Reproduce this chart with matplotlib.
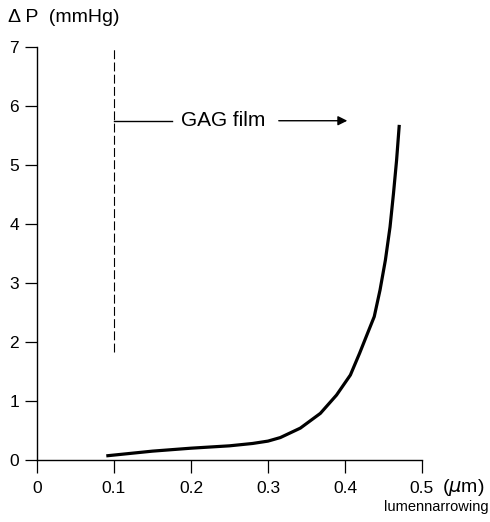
import matplotlib
matplotlib.use("Agg")
import matplotlib.pyplot as plt

plt.rcParams['font.family'] = ['Liberation Sans', 'DejaVu Sans']

# curve: lumen narrowing (um) vs pressure drop (mmHg)
narrowing = [0.09, 0.15, 0.2, 0.25, 0.28, 0.3, 0.316, 0.342, 0.368, 0.389,
             0.407, 0.419, 0.430, 0.438, 0.4455, 0.4525, 0.4585, 0.463,
             0.467, 0.4705]
delta_p = [0.07, 0.15, 0.2, 0.24, 0.28, 0.32, 0.38, 0.54, 0.79, 1.10,
           1.44, 1.81, 2.17, 2.43, 2.88, 3.39, 3.95, 4.52, 5.08, 5.68]

x_ticks = [0, 0.1, 0.2, 0.3, 0.4, 0.5]
x_labels = ['0', '0.1', '0.2', '0.3', '0.4', '0.5']
y_ticks = [0, 1, 2, 3, 4, 5, 6, 7]

film_x = 0.1          # GAG film boundary
film_y = [1.83, 7.0]
arrow_y = 5.75
arrow_end = 0.403

fig = plt.figure(figsize=(4.9, 5.22), dpi=100)
ax = fig.add_axes([0.0755, 0.1188, 0.7857, 0.7912])

ax.plot(narrowing, delta_p, color='black', lw=2.3,
        solid_capstyle='butt', solid_joinstyle='round')

# dashed boundary line and the arrow
ax.plot([film_x, film_x], film_y, color='black', lw=0.8, dashes=(8, 3))
ax.plot([film_x, 0.175], [arrow_y, arrow_y], color='black', lw=1.0)
ax.annotate('', xy=(arrow_end, arrow_y), xytext=(0.314, arrow_y),
            arrowprops=dict(arrowstyle='-|>', color='black', lw=1.0,
                            mutation_scale=14, shrinkA=0, shrinkB=0))
ax.text(0.242, arrow_y, 'GAG film', ha='center', va='center', fontsize=15)

ax.set_xlim(0, 0.5)
ax.set_ylim(0, 7)
ax.set_xticks(x_ticks)
ax.set_xticklabels(x_labels)
ax.set_yticks(y_ticks)

for side in ['top', 'right']:
    ax.spines[side].set_visible(False)
for side in ['left', 'bottom']:
    ax.spines[side].set_linewidth(1.0)

ax.tick_params(axis='y', direction='out', length=9, width=0.9, pad=4,
               labelsize=12.5)
ax.tick_params(axis='x', direction='out', length=9, width=0.9, pad=6,
               labelsize=12.5)

fig.text(0.016, 0.967, '\u0394 P  (mmHg)', ha='left', va='center', fontsize=14)
fig.text(0.902, 0.066, '($\\mu$m)', ha='left', va='center', fontsize=14)
fig.text(0.997, 0.028, 'lumennarrowing', ha='right', va='center', fontsize=10.5)

fig.savefig('out.png', dpi=100)
